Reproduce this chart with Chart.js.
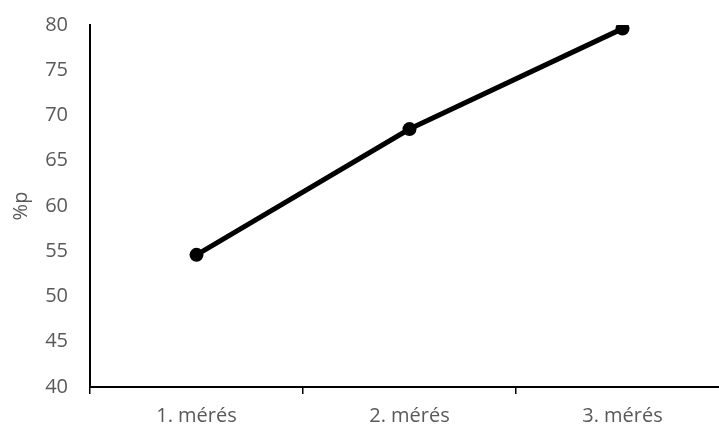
<!DOCTYPE html>
<html>
<head>
<meta charset="utf-8">
<script src="https://cdn.jsdelivr.net/npm/chart.js@4"></script>
<style>
  html, body { margin: 0; padding: 0; overflow: hidden; background: #fff; }
  #wrap { width: 740px; height: 425px; position: relative; }
</style>
</head>
<body>
<div id="wrap"><canvas id="c"></canvas></div>
<script>
const categories = ['1. mérés', '2. mérés', '3. mérés'];
const values = [54.6, 68.5, 79.6];
const yTicks = [40, 45, 50, 55, 60, 65, 70, 75, 80];
const yTitle = '%p';

const textColor = '#595959';
const font = { family: '"Open Sans", "DejaVu Sans", sans-serif', size: 20 };

new Chart(document.getElementById('c'), {
  type: 'line',
  data: {
    labels: categories,
    datasets: [{
      data: values,
      borderColor: '#000',
      backgroundColor: '#000',
      borderWidth: 5,
      pointRadius: 7,
      pointHoverRadius: 7,
      pointBorderWidth: 0,
      tension: 0
    }]
  },
  options: {
    responsive: true,
    maintainAspectRatio: false,
    animation: false,
    layout: { padding: { top: 25, left: 9, right: 11, bottom: 0 } },
    plugins: { legend: { display: false }, tooltip: { enabled: false } },
    scales: {
      x: {
        type: 'category',
        offset: true,
        grid: { display: true, offset: true, drawOnChartArea: false, drawTicks: true, tickLength: 7, color: '#000', lineWidth: 1.5 },
        border: { display: true, color: '#000', width: 2 },
        ticks: { color: textColor, font: font, padding: 10, maxRotation: 0 },
        afterFit: s => { s.height = 38; s.paddingLeft = 0; s.paddingRight = 0; }
      },
      y: {
        min: 40,
        max: 80,
        afterBuildTicks: s => { s.ticks = yTicks.map(v => ({ value: v })); },
        grid: { display: false, drawTicks: false },
        border: { display: true, color: '#000', width: 2 },
        ticks: { color: textColor, font: font, padding: 22 },
        title: { display: true, text: yTitle, color: textColor, font: font, padding: { top: 0, bottom: 0 } },
        afterFit: s => { s.width = 81; s.paddingTop = 0; s.paddingBottom = 0; }
      }
    }
  }
});
</script>
</body>
</html>
